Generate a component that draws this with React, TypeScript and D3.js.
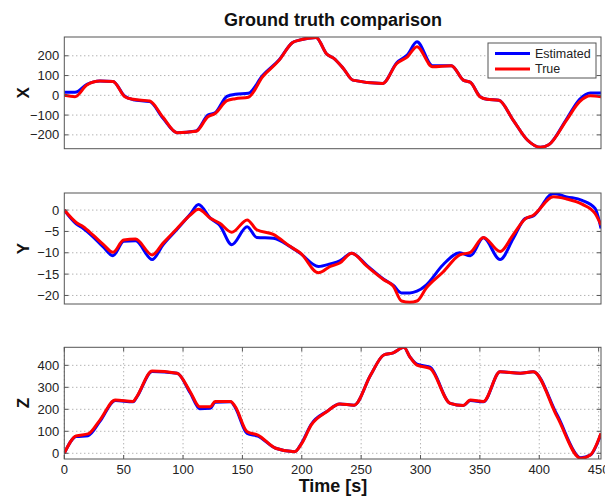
import React from 'react'
import * as d3 from 'd3'

// time stamps [s] and values
const xTimes = [0, 9, 19, 30, 41, 51, 58, 72, 83, 95, 111, 121, 127, 137, 144, 155, 167, 181, 192, 198, 212, 221, 227, 235, 243, 268, 280, 289, 297, 310, 326, 336, 342, 350, 356, 366, 378, 390, 401, 408, 423, 434, 443, 452]
const xTrue = [0, -7, 52, 72, 70, -7, -20, -29, -110, -189, -182, -108, -92, -27, -17, -10, 94, 178, 266, 279, 293, 209, 187, 136, 77, 60, 161, 195, 246, 145, 150, 77, 66, -7, -20, -25, -125, -226, -263, -250, -125, -32, -2, -7]
const xEst = [15, 15, 55, 72, 70, -5, -22, -32, -115, -189, -180, -100, -88, -5, 5, 10, 100, 180, 266, 279, 293, 209, 187, 136, 77, 60, 165, 205, 271, 150, 150, 77, 66, -5, -20, -25, -125, -226, -263, -250, -120, -20, 12, 12]

const yTimes = [0, 10, 16, 24, 33, 41, 50, 60, 74, 83, 95, 106, 113, 123, 131, 141, 154, 162, 176, 190, 199, 214, 224, 232, 242, 255, 269, 277, 284, 291, 297, 305, 319, 333, 342, 353, 367, 378, 388, 395, 412, 423, 436, 447, 452]
const yTrue = [0, -2.9, -3.9, -5.8, -8.1, -9.9, -7, -6.8, -10.5, -7.8, -4.3, -1.2, 0.2, -1.9, -3.1, -5.2, -2.3, -4.6, -5.7, -8.5, -10.1, -14.7, -13.2, -12.4, -10.1, -13.2, -16.3, -17.8, -21.3, -21.6, -21.3, -18.2, -14.5, -10.5, -9.9, -6.4, -9.7, -5.8, -2.1, -1.2, 3.1, 2.6, 1.4, -0.8, -3.5]
const yEst = [0, -3.2, -4.3, -6.2, -8.7, -10.7, -7.3, -7.2, -11.6, -8.2, -4.5, -1, 1.3, -1.9, -3.6, -8.1, -3.9, -6.4, -6.6, -8.5, -10.2, -13.2, -12.6, -11.9, -10.1, -13, -16.2, -17.6, -19.4, -19.4, -19, -17.5, -12.8, -10, -10.7, -6.5, -11.6, -6.7, -2, -1.4, 3.9, 3.1, 2.3, 0.4, -4.3]

const zTimes = [0, 10, 20, 30, 43, 58, 61, 74, 95, 106, 114, 123, 127, 140, 144, 154, 163, 178, 194, 200, 208, 221, 232, 244, 258, 269, 277, 286, 291, 297, 308, 325, 336, 342, 353, 367, 384, 395, 415, 435, 443, 452]
const zTrue = [0, 79, 88, 151, 242, 236, 257, 374, 364, 280, 212, 212, 235, 236, 212, 98, 83, 23, 7, 45, 129, 189, 224, 219, 356, 447, 457, 482, 439, 401, 386, 227, 217, 242, 236, 371, 364, 371, 167, -23, -8, 91]
const zEst = [0, 76, 80, 145, 240, 234, 255, 372, 364, 275, 203, 205, 232, 234, 208, 90, 78, 23, 7, 48, 132, 190, 224, 219, 356, 447, 457, 482, 439, 405, 392, 227, 217, 240, 234, 371, 364, 371, 175, -20, -8, 88]

const xTickVals = [-200, -100, 0, 100, 200]
const yTickVals = [-20, -15, -10, -5, 0]
const zTickVals = [0, 100, 200, 300, 400]
const timeTicks = [0, 50, 100, 150, 200, 250, 300, 350, 400, 450]

const W = 605
const H = 496
const left = 64.3
const right = 601
const font = 'Liberation Sans, Arial, Helvetica, sans-serif'

const panels = [
  {name: 'X', times: xTimes, est: xEst, tru: xTrue, domain: [-270, 295], top: 37, bottom: 148.7, ticks: xTickVals, vgrid: false},
  {name: 'Y', times: yTimes, est: yEst, tru: yTrue, domain: [-22, 4], top: 193, bottom: 304, ticks: yTickVals, vgrid: false},
  {name: 'Z', times: zTimes, est: zEst, tru: zTrue, domain: [-26, 482], top: 347.3, bottom: 459, ticks: zTickVals, vgrid: true},
]

const x = d3.scaleLinear().domain([0, 452]).range([left, right])

const Panel = ({p, i}) => {
  const y = d3.scaleLinear().domain(p.domain).range([p.bottom, p.top])
  const line = d3.line().x((d) => x(d[0])).y((d) => y(d[1])).curve(d3.curveMonotoneX)
  const estPts = p.times.map((t, k) => [t, p.est[k]])
  const truPts = p.times.map((t, k) => [t, p.tru[k]])
  const fmt = d3.format('')
  const clipId = `clip${i}`
  const midY = (p.top + p.bottom) / 2
  return (
    <g>
      <defs>
        <clipPath id={clipId}>
          <rect x={left} y={p.top} width={right - left} height={p.bottom - p.top} />
        </clipPath>
      </defs>
      {p.ticks.map((v) => (
        <line key={'h' + v} x1={left} x2={right} y1={y(v)} y2={y(v)} stroke="#777" strokeWidth={0.8} strokeDasharray="1,3" />
      ))}
      {p.vgrid && timeTicks.map((t) => (
        <line key={'v' + t} x1={x(t)} x2={x(t)} y1={p.top} y2={p.bottom} stroke="#777" strokeWidth={0.8} strokeDasharray="1,3" />
      ))}
      <g clipPath={`url(#${clipId})`}>
        <path d={line(estPts)} fill="none" stroke="#0000ff" strokeWidth={3} strokeLinejoin="round" />
        <path d={line(truPts)} fill="none" stroke="#ff0000" strokeWidth={3} strokeLinejoin="round" />
      </g>
      <rect x={left} y={p.top} width={right - left} height={p.bottom - p.top} fill="none" stroke="#555" strokeWidth={1} />
      {p.ticks.map((v) => (
        <g key={'t' + v}>
          <line x1={left} x2={left + 4} y1={y(v)} y2={y(v)} stroke="#555" />
          <line x1={right - 4} x2={right} y1={y(v)} y2={y(v)} stroke="#555" />
          <text x={left - 5} y={y(v)} dy="0.35em" textAnchor="end" fontFamily={font} fontSize={13} fill="#222">{fmt(v)}</text>
        </g>
      ))}
      {p.vgrid && timeTicks.map((t) => (
        <g key={'xt' + t}>
          <line x1={x(t)} x2={x(t)} y1={p.bottom} y2={p.bottom - 4} stroke="#555" />
          <line x1={x(t)} x2={x(t)} y1={p.top} y2={p.top + 4} stroke="#555" />
          <text x={x(t)} y={p.bottom + 15} textAnchor="middle" fontFamily={font} fontSize={13} fill="#222">{t}</text>
        </g>
      ))}
      <text transform={`translate(23,${midY}) rotate(-90)`} textAnchor="middle" dy="0.35em" fontFamily={font} fontSize={17} fontWeight="bold" fill="#111">{p.name}</text>
    </g>
  )
}

export default function App() {
  return (
    <svg width={W} height={H} viewBox={`0 0 ${W} ${H}`} style={{position: 'absolute', left: 0, top: 0, background: '#fff'}}>
      <rect width={W} height={H} fill="#fff" />
      <text x={333} y={26} textAnchor="middle" fontFamily={font} fontSize={18} fontWeight="bold" fill="#111">Ground truth comparison</text>
      {panels.map((p, i) => <Panel key={p.name} p={p} i={i} />)}
      <text x={333} y={492} textAnchor="middle" fontFamily={font} fontSize={18} fontWeight="bold" fill="#111">Time [s]</text>
      <g>
        <rect x={488} y={43} width={108} height={35} fill="#fff" stroke="#555" strokeWidth={1} />
        <line x1={495} x2={530} y1={53.5} y2={53.5} stroke="#0000ff" strokeWidth={3} />
        <text x={535} y={53.5} dy="0.35em" fontFamily={font} fontSize={12.5} fill="#222">Estimated</text>
        <line x1={495} x2={530} y1={69} y2={69} stroke="#ff0000" strokeWidth={3} />
        <text x={535} y={69} dy="0.35em" fontFamily={font} fontSize={12.5} fill="#222">True</text>
      </g>
    </svg>
  )
}
